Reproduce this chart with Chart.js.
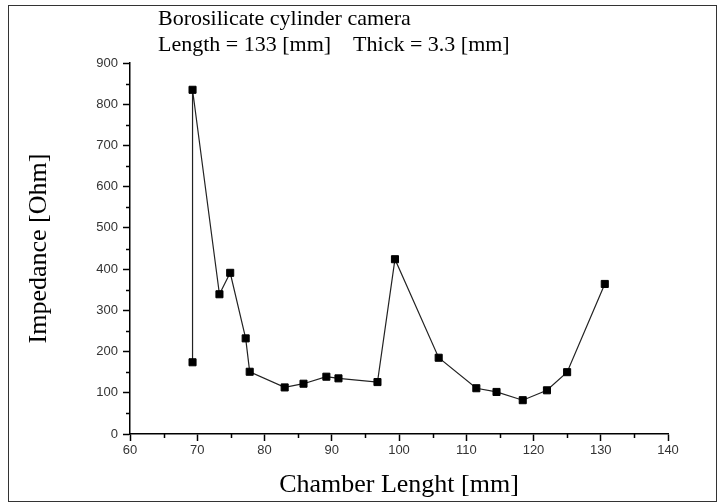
<!DOCTYPE html>
<html>
<head>
<meta charset="utf-8">
<script src="https://cdn.jsdelivr.net/npm/chart.js@4/dist/chart.umd.min.js"></script>
<style>
  html, body { margin: 0; padding: 0; background: #fff; }
  #wrap { width: 723px; height: 504px; position: relative; }
</style>
</head>
<body>
<div id="wrap"><canvas id="c" width="723" height="504"></canvas></div>
<script>
// Measured chamber lengths [mm] and impedance [Ohm], in measurement order
const chamberLength = [69.3, 69.3, 73.3, 74.9, 77.2, 77.8, 83.0, 85.8, 89.2, 91.0, 96.8, 99.4, 105.9, 111.5, 114.5, 118.4, 122.0, 125.0, 130.6];
const impedance     = [174, 835, 339, 391, 232, 151, 113, 122, 139, 135, 126, 424, 185, 111, 102, 82, 106, 150, 364];

const xTickValues = [60, 70, 80, 90, 100, 110, 120, 130, 140];
const yTickValues = [0, 100, 200, 300, 400, 500, 600, 700, 800, 900];
const xMinorTicks = [65, 75, 85, 95, 105, 115, 125, 135];
const yMinorTicks = [50, 150, 250, 350, 450, 550, 650, 750, 850];

const titleLines = ['Borosilicate cylinder camera', 'Length = 133 [mm]    Thick = 3.3 [mm]'];
const xTitle = 'Chamber Lenght [mm]';
const yTitle = 'Impedance [Ohm]';

const points = chamberLength.map((x, i) => ({ x: x, y: impedance[i] }));

// Frame, minor ticks and the in-plot caption
const decorations = {
  id: 'decorations',
  afterDraw(chart) {
    const ctx = chart.ctx;
    const xs = chart.scales.x, ys = chart.scales.y;
    const area = chart.chartArea;
    ctx.save();
    // outer frame
    ctx.strokeStyle = '#333';
    ctx.lineWidth = 1;
    ctx.strokeRect(8.5, 5.5, 708, 496);
    // minor ticks
    ctx.strokeStyle = '#000';
    ctx.lineWidth = 1.5;
    ctx.beginPath();
    xMinorTicks.forEach(v => {
      const px = Math.round(xs.getPixelForValue(v)) + 0.5;
      ctx.moveTo(px, area.bottom);
      ctx.lineTo(px, area.bottom + 4);
    });
    yMinorTicks.forEach(v => {
      const py = Math.round(ys.getPixelForValue(v)) + 0.5;
      ctx.moveTo(area.left, py);
      ctx.lineTo(area.left - 4, py);
    });
    ctx.stroke();
    // caption
    ctx.fillStyle = '#000';
    ctx.font = '22px "Liberation Serif", "Times New Roman", serif';
    ctx.textAlign = 'left';
    ctx.textBaseline = 'alphabetic';
    ctx.fillText(titleLines[0], 158, 25);
    ctx.fillText(titleLines[1], 158, 51);
    ctx.restore();
  }
};

new Chart(document.getElementById('c'), {
  type: 'scatter',
  data: {
    datasets: [{
      data: points,
      showLine: true,
      borderColor: '#222',
      borderWidth: 1.2,
      pointStyle: 'rect',
      pointRadius: 5,
      pointHoverRadius: 5,
      pointBackgroundColor: '#000',
      pointBorderColor: '#000',
      pointBorderWidth: 1,
      tension: 0
    }]
  },
  options: {
    responsive: false,
    animation: false,
    layout: { padding: { top: 63, left: 8, right: 55, bottom: 2 } },
    plugins: {
      legend: { display: false },
      tooltip: { enabled: false },
      title: { display: false }
    },
    scales: {
      x: {
        type: 'linear',
        min: 60, max: 140,
        afterBuildTicks: s => { s.ticks = xTickValues.map(v => ({ value: v })); },
        afterFit: s => { s.height = 68; },
        grid: { drawOnChartArea: false, tickLength: 7, color: '#000', tickWidth: 1.5 },
        border: { display: true, color: '#000', width: 1.5 },
        ticks: {
          padding: 2,
          color: '#333',
          font: { family: '"Liberation Sans", Arial, sans-serif', size: 13 },
          maxRotation: 0
        },
        title: {
          display: true,
          text: xTitle,
          color: '#000',
          font: { family: '"Liberation Serif", "Times New Roman", serif', size: 26 },
          padding: { top: 0, bottom: 1 }
        }
      },
      y: {
        type: 'linear',
        min: 0, max: 900,
        afterBuildTicks: s => { s.ticks = yTickValues.map(v => ({ value: v })); },
        afterFit: s => { s.width = 122; },
        grid: { drawOnChartArea: false, tickLength: 7, color: '#000', tickWidth: 1.5 },
        border: { display: true, color: '#000', width: 1.5 },
        ticks: {
          padding: 5,
          color: '#333',
          font: { family: '"Liberation Sans", Arial, sans-serif', size: 13 }
        },
        title: {
          display: true,
          text: yTitle,
          color: '#000',
          font: { family: '"Liberation Serif", "Times New Roman", serif', size: 26 },
          padding: { top: 16, bottom: 0 }
        }
      }
    }
  },
  plugins: [decorations]
});
</script>
</body>
</html>
